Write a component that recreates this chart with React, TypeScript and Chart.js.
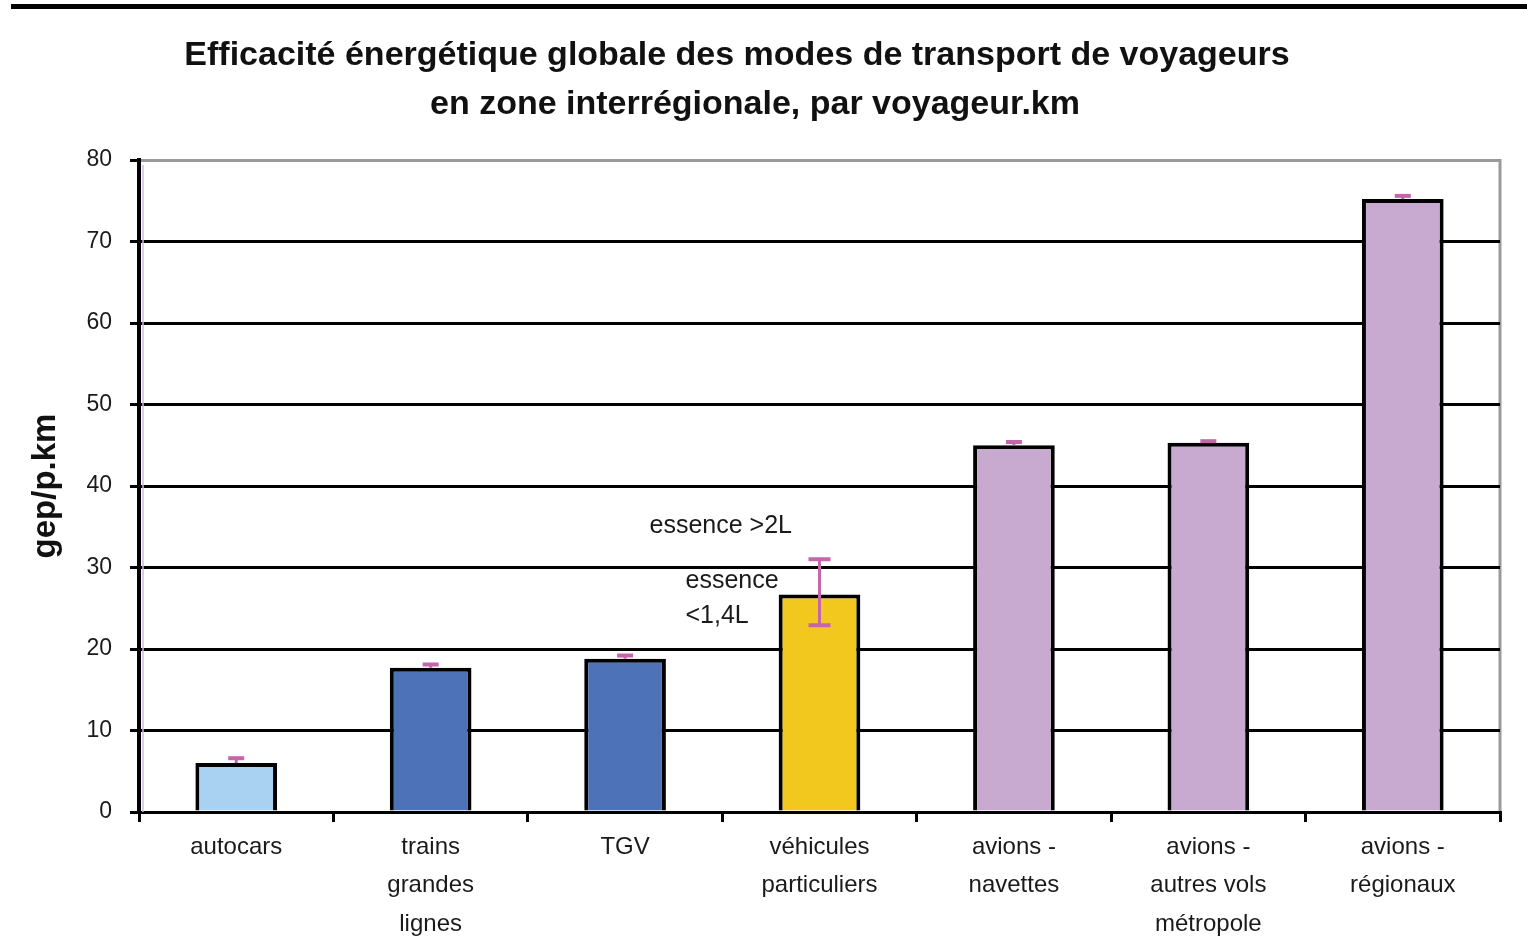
import React, { useEffect, useRef } from "react";
import { Chart, registerables } from "chart.js";

Chart.register(...registerables);

const categories: string[][] = [
  ["autocars"],
  ["trains", "grandes", "lignes"],
  ["TGV"],
  ["véhicules", "particuliers"],
  ["avions -", "navettes"],
  ["avions -", "autres vols", "métropole"],
  ["avions -", "régionaux"],
];
const values = [6.0, 17.7, 18.8, 26.7, 45.0, 45.3, 75.2];
const errHigh = [6.6, 18.1, 19.2, 31.0, 45.4, 45.5, 75.6];
const errLow = [6.0, 17.7, 18.8, 22.9, 45.0, 45.3, 75.2];
const barColors = ["#A9D1F1", "#4E72B8", "#4E72B8", "#F3C81E", "#C8A9CF", "#C8A9CF", "#C8A9CF"];
const yTicks = [0, 10, 20, 30, 40, 50, 60, 70, 80];
const titleLines = [
  "Efficacité énergétique globale des modes de transport de voyageurs",
  "en zone interrégionale, par voyageur.km",
];
const yTitle = "gep/p.km";
// annotations anchored to category index 3 (véhicules particuliers), value in axis units, x offset from bar centre
const noteTexts = ["essence >2L", "essence", "<1,4L"];
const noteValues = [35.1, 28.3, 24.0];
const noteOffsets = [-170, -134, -134];
const noteIndex = 3;

const FONT = "'Liberation Sans', Arial, sans-serif";
const PINK = "#C566AA";

export default function App() {
  const ref = useRef<HTMLCanvasElement | null>(null);
  useEffect(() => {
    document.body.style.margin = "0";
    const canvas = ref.current!;
    const decor = {
      id: "decor",
      beforeDraw(chart: any) {
        const { ctx, chartArea } = chart;
        ctx.save();
        ctx.fillStyle = "#fff";
        ctx.fillRect(0, 0, chart.width, chart.height);
        ctx.fillStyle = "#000";
        ctx.fillRect(11, 4, chart.width - 11, 5);
        ctx.fillStyle = "#111";
        ctx.font = `bold 34px ${FONT}`;
        ctx.textAlign = "center";
        ctx.textBaseline = "middle";
        ctx.fillText(titleLines[0], 737, 56);
        ctx.fillText(titleLines[1], 755, 105);
        // right gray frame
        ctx.strokeStyle = "#9a9a9a";
        ctx.lineWidth = 3;
        ctx.beginPath();
        ctx.moveTo(chartArea.right, chartArea.top - 1);
        ctx.lineTo(chartArea.right, chartArea.bottom);
        ctx.stroke();
        ctx.restore();
      },
      afterDatasetsDraw(chart: any) {
        const { ctx, chartArea } = chart;
        const y = chart.scales.y;
        const meta = chart.getDatasetMeta(0);
        ctx.save();
        // faint lavender line next to the y axis
        ctx.strokeStyle = "#D2B8E2";
        ctx.lineWidth = 1.5;
        ctx.beginPath();
        ctx.moveTo(chartArea.left + 4, chartArea.top + 5);
        ctx.lineTo(chartArea.left + 4, chartArea.bottom);
        ctx.stroke();
        ctx.strokeStyle = PINK;
        meta.data.forEach((bar: any, i: number) => {
          const x = bar.x;
          const yh = y.getPixelForValue(errHigh[i]);
          const yl = y.getPixelForValue(errLow[i]);
          const big = errLow[i] < values[i];
          const cw = big ? 22 : 16;
          ctx.lineWidth = 3;
          ctx.beginPath();
          ctx.moveTo(x, yh);
          ctx.lineTo(x, big ? yl : bar.y);
          ctx.stroke();
          ctx.lineWidth = 4;
          ctx.beginPath();
          ctx.moveTo(x - cw / 2, yh);
          ctx.lineTo(x + cw / 2, yh);
          if (big) {
            ctx.moveTo(x - cw / 2, yl);
            ctx.lineTo(x + cw / 2, yl);
          }
          ctx.stroke();
        });
        ctx.fillStyle = "#1a1a1a";
        ctx.font = `25px ${FONT}`;
        ctx.textAlign = "left";
        ctx.textBaseline = "middle";
        const bx = meta.data[noteIndex].x;
        noteTexts.forEach((t, k) => {
          ctx.fillText(t, bx + noteOffsets[k], y.getPixelForValue(noteValues[k]));
        });
        ctx.restore();
      },
    };
    const chart = new Chart(canvas, {
      type: "bar",
      data: {
        labels: categories,
        datasets: [
          {
            data: values,
            backgroundColor: barColors,
            borderColor: "#000",
            borderWidth: 4,
            borderSkipped: "bottom",
            barPercentage: 0.42,
            categoryPercentage: 1,
          },
        ],
      },
      options: {
        responsive: false,
        animation: false,
        devicePixelRatio: 1,
        layout: { padding: { left: 0, right: 27, top: 160, bottom: 0 } },
        plugins: { legend: { display: false }, title: { display: false }, tooltip: { enabled: false } },
        scales: {
          x: {
            offset: true,
            grid: {
              display: true,
              drawOnChartArea: false,
              drawTicks: true,
              tickLength: 10,
              tickColor: "#000",
              lineWidth: 3,
              offset: true,
            },
            border: { color: "#000", width: 3 },
            ticks: {
              color: "#1a1a1a",
              font: { family: FONT, size: 24, lineHeight: 1.6 },
              padding: 6,
              maxRotation: 0,
              autoSkip: false,
            },
            afterFit: (s: any) => {
              s.height = 137;
            },
          },
          y: {
            min: 0,
            max: 80,
            afterBuildTicks: (s: any) => {
              s.ticks = yTicks.map((v) => ({ value: v }));
            },
            grid: {
              color: (c: any) => (c.tick && c.tick.value === 80 ? "#9a9a9a" : "#000"),
              lineWidth: 3,
              tickLength: 9,
              tickColor: "#000",
            },
            border: { color: "#000", width: 4 },
            ticks: {
              color: "#1a1a1a",
              font: { family: FONT, size: 23 },
              padding: 18,
            },
            title: {
              display: true,
              text: yTitle,
              color: "#111",
              font: { family: FONT, size: 33, weight: "bold" },
              padding: { top: 26, bottom: 0 },
            },
            afterFit: (s: any) => {
              s.width = 139;
            },
          },
        },
      },
      plugins: [decor],
    });
    return () => chart.destroy();
  }, []);
  return <canvas ref={ref} width={1527} height={949} style={{ display: "block" }} />;
}
